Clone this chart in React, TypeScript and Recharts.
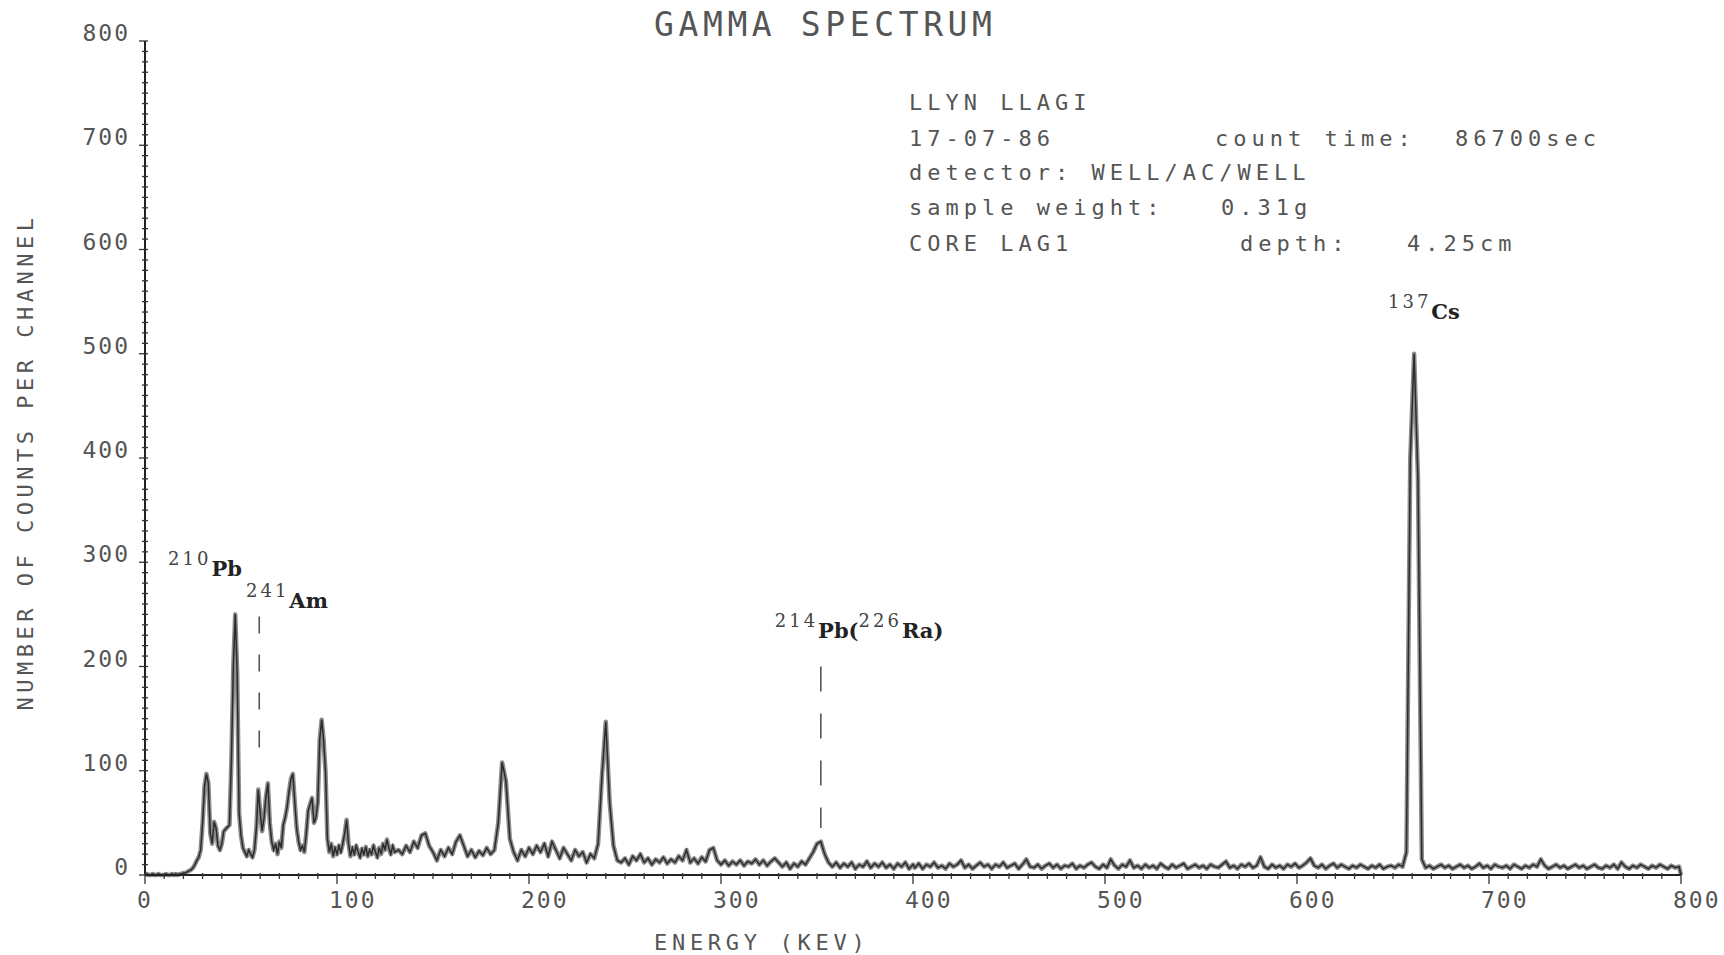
import { LineChart, Line, XAxis, YAxis, ReferenceLine, ReferenceDot } from "recharts";

// counts per channel, 0–130 keV at 1 keV per channel
const lowCounts = [
  0, 1, 0, 0, 1, 0, 0, 1, 0, 0,
  0, 1, 0, 0, 1, 0, 1, 0, 1, 1,
  2, 2, 3, 4, 5, 7, 10, 14, 17, 24,
  50, 85, 97, 88, 40, 30, 51, 45, 28, 24,
  30, 42, 44, 46, 48, 110, 200, 250, 195, 60,
  38, 26, 22, 18, 24, 20, 17, 24, 45, 82,
  60, 42, 55, 75, 88, 50, 32, 24, 30, 20,
  32, 26, 48, 55, 65, 80, 92, 97, 70, 45,
  32, 24, 28, 22, 40, 62, 68, 74, 50, 55,
  70, 130, 149, 130, 100, 35, 22, 30, 18, 26,
  20, 28, 22, 30, 40, 53, 30, 18, 26, 20,
  28, 22, 17, 25, 20, 27, 18, 24, 20, 28,
  22, 17, 26, 20, 30, 24, 34, 26, 20, 28, 22,
];

// 132–400 keV at 2 keV per channel
const midCounts = [
  24, 20, 28, 22, 32, 26, 38, 40, 28, 22, 14, 24, 18, 26, 20, 32, 38, 28, 18, 24,
  17, 23, 19, 26, 20, 24, 50, 108, 90, 35, 22, 14, 24, 18, 26, 20, 28, 22, 30, 18,
  32, 24, 16, 26, 20, 14, 24, 18, 22, 12, 20, 16, 30, 95, 147, 70, 28, 14, 12, 16,
  10, 18, 14, 20, 12, 16, 10, 15, 12, 17, 11, 15, 12, 18, 14, 24, 12, 16, 11, 17,
  13, 24, 26, 14, 10, 14, 9, 13, 10, 14, 9, 13, 11, 15, 10, 14, 9, 13, 16, 12,
  8, 12, 6, 11, 8, 13, 10, 16, 22, 30, 32, 20, 12, 8, 12, 7, 11, 8, 12, 6,
  10, 8, 13, 7, 11, 8, 12, 7, 10, 6, 11, 8, 12, 6, 10,
];

// 401–799 keV at 2 keV per channel
const highCounts = [
  7, 11, 6, 10, 8, 12, 7, 9, 6, 11, 8, 10, 14, 7, 10, 6, 9, 12, 8, 10,
  6, 10, 8, 12, 7, 9, 11, 6, 10, 15, 8, 7, 10, 6, 9, 11, 7, 10, 6, 9,
  8, 11, 6, 9, 7, 10, 12, 8, 6, 10, 7, 15, 9, 6, 10, 8, 14, 7, 9, 6,
  10, 7, 9, 6, 11, 8, 6, 10, 7, 9, 11, 6, 8, 10, 7, 9, 6, 10, 8, 7,
  10, 13, 7, 9, 6, 10, 8, 11, 7, 9, 17, 8, 6, 10, 7, 9, 6, 10, 8, 11,
  7, 9, 12, 16, 9, 7, 10, 6, 9, 11, 7, 10, 8, 6, 9, 7, 10, 8, 6, 9,
  7, 10, 6, 8, 9, 7, 10, 8, 22, 400, 500, 380, 15, 7, 9, 6, 8, 10, 7, 9,
  6, 8, 10, 7, 9, 6, 8, 11, 7, 9, 6, 10, 8, 7, 9, 6, 10, 8, 6, 9,
  7, 10, 8, 15, 9, 6, 8, 10, 7, 9, 6, 8, 10, 7, 9, 6, 8, 10, 7, 6,
  9, 7, 10, 6, 12, 8, 6, 9, 7, 10, 8, 6, 9, 7, 10, 8, 6, 9, 7, 8,
];

const lastChannel = { energy: 800, counts: 0 };

const xTicks = [0, 100, 200, 300, 400, 500, 600, 700, 800];
const yTicks = [0, 100, 200, 300, 400, 500, 600, 700, 800];

const infoLines = [
  { text: "LLYN LLAGI", x: 909, y: 110 },
  { text: "17-07-86", x: 909, y: 146 },
  { text: "count time:", x: 1215, y: 146 },
  { text: "86700sec", x: 1455, y: 146 },
  { text: "detector: WELL/AC/WELL", x: 909, y: 180 },
  { text: "sample weight:", x: 909, y: 215 },
  { text: "0.31g", x: 1221, y: 215 },
  { text: "CORE LAG1", x: 909, y: 251 },
  { text: "depth:", x: 1240, y: 251 },
  { text: "4.25cm", x: 1407, y: 251 },
];

// isotope labels: even entries are mass numbers (raised), odd entries the symbol
const peakLabels = [
  { energy: 12, counts: 287, parts: ["210", "Pb"] },
  { energy: 52.6, counts: 256, parts: ["241", "Am"] },
  { energy: 328, counts: 227, parts: ["214", "Pb(", "226", "Ra)"] },
  { energy: 647.4, counts: 533, parts: ["137", "Cs"] },
];

const markerLines = [
  { energy: 59.5, from: 248, to: 120, dash: "17 21" },
  { energy: 352, from: 200, to: 45, dash: "25 22" },
];

const spectrum = [
  ...lowCounts.map((c, i) => ({ energy: i, counts: c })),
  ...midCounts.map((c, i) => ({ energy: 132 + i * 2, counts: c })),
  ...highCounts.map((c, i) => ({ energy: 401 + i * 2, counts: c })),
  lastChannel,
];

const W = 1724;
const H = 955;
const PLOT_LEFT = 145;
const PLOT_TOP = 41;
const PLOT_RIGHT = 1681;
const PLOT_BOTTOM = 875;
const Y_AXIS_W = 100;
const X_AXIS_H = 40;

const plotter = "'DejaVu Sans Mono', monospace";
const ink = "#555";

const minorY = Array.from({ length: 81 }, (_, i) => i * 10);
const minorX = Array.from({ length: 81 }, (_, i) => i * 10);

function YTick({ y, payload }: any) {
  const major = yTicks.includes(payload.value);
  return (
    <g>
      <line x1={PLOT_LEFT - (major ? 6 : 3)} x2={PLOT_LEFT + 3} y1={y} y2={y} stroke="#333" strokeWidth={1.3} />
      {major && (
        <text x={130} y={y} textAnchor="end" fontFamily={plotter} fontSize={23} letterSpacing={2} fill={ink}>
          {payload.value}
        </text>
      )}
    </g>
  );
}

function XTick({ x, payload }: any) {
  const major = xTicks.includes(payload.value);
  return (
    <g>
      <line x1={x} x2={x} y1={PLOT_BOTTOM - 2} y2={PLOT_BOTTOM + (major ? 9 : 4)} stroke="#333" strokeWidth={1.3} />
      {major && (
        <text x={x - 8} y={908} fontFamily={plotter} fontSize={23} letterSpacing={2} fill={ink}>
          {payload.value}
        </text>
      )}
    </g>
  );
}

function IsotopeLabel({ cx, cy, parts }: any) {
  return (
    <text x={cx} y={cy} fontFamily="'DejaVu Serif', serif" fill="#222">
      {parts.map((p: string, i: number) =>
        i % 2 === 0 ? (
          <tspan key={i} fontSize={18} letterSpacing={3} fill="#444" dy={-11}>
            {p}
          </tspan>
        ) : (
          <tspan key={i} fontSize={21} fontWeight="bold" dy={11}>
            {p}
          </tspan>
        )
      )}
    </text>
  );
}

export default function App() {
  return (
    <div style={{ position: "absolute", left: 0, top: 0, width: W, height: H, background: "#fff" }}>
      <LineChart
        width={W}
        height={H}
        data={spectrum}
        margin={{
          top: PLOT_TOP,
          left: PLOT_LEFT - Y_AXIS_W,
          right: W - PLOT_RIGHT,
          bottom: H - PLOT_BOTTOM - X_AXIS_H,
        }}
      >
        <XAxis
          type="number"
          dataKey="energy"
          domain={[0, 800]}
          ticks={minorX}
          interval={0}
          height={X_AXIS_H}
          tickLine={false}
          axisLine={{ stroke: "#222", strokeWidth: 2 }}
          tick={(p: any) => <XTick {...p} />}
        />
        <YAxis
          type="number"
          domain={[0, 800]}
          ticks={minorY}
          interval={0}
          width={Y_AXIS_W}
          tickLine={false}
          axisLine={{ stroke: "#222", strokeWidth: 2 }}
          tick={(p: any) => <YTick {...p} />}
        />
        {markerLines.map((m) => (
          <ReferenceLine
            key={m.energy}
            segment={[
              { x: m.energy, y: m.from },
              { x: m.energy, y: m.to },
            ]}
            stroke="#555"
            strokeWidth={1.6}
            strokeDasharray={m.dash}
          />
        ))}
        {/* the trace is drawn twice: a wide grey band under a thin dark pen line */}
        <Line
          type="linear"
          dataKey="counts"
          stroke="#8c8c8c"
          strokeWidth={4.5}
          strokeLinejoin="round"
          dot={false}
          isAnimationActive={false}
        />
        <Line
          type="linear"
          dataKey="counts"
          stroke="#2b2b2b"
          strokeWidth={1.5}
          dot={false}
          isAnimationActive={false}
        />
        {peakLabels.map((l) => (
          <ReferenceDot
            key={l.parts.join("")}
            x={l.energy}
            y={l.counts}
            r={1}
            shape={(p: any) => <IsotopeLabel cx={p.cx} cy={p.cy} parts={l.parts} />}
          />
        ))}
      </LineChart>
      <svg
        width={W}
        height={H}
        style={{ position: "absolute", left: 0, top: 0, pointerEvents: "none" }}
      >
        <text x={654} y={36} fontFamily={plotter} fontSize={33} letterSpacing={4.6} fill={ink}>
          GAMMA SPECTRUM
        </text>
        {infoLines.map((l) => (
          <text key={l.text} x={l.x} y={l.y} fontFamily={plotter} fontSize={22} letterSpacing={5} fill={ink}>
            {l.text}
          </text>
        ))}
        <text
          x={33}
          y={462}
          transform="rotate(-90 33 462)"
          textAnchor="middle"
          fontFamily={plotter}
          fontSize={22}
          letterSpacing={4.5}
          fill={ink}
        >
          NUMBER OF COUNTS PER CHANNEL
        </text>
        <text x={654} y={950} fontFamily={plotter} fontSize={22} letterSpacing={4.7} fill={ink}>
          ENERGY (KEV)
        </text>
      </svg>
    </div>
  );
}
